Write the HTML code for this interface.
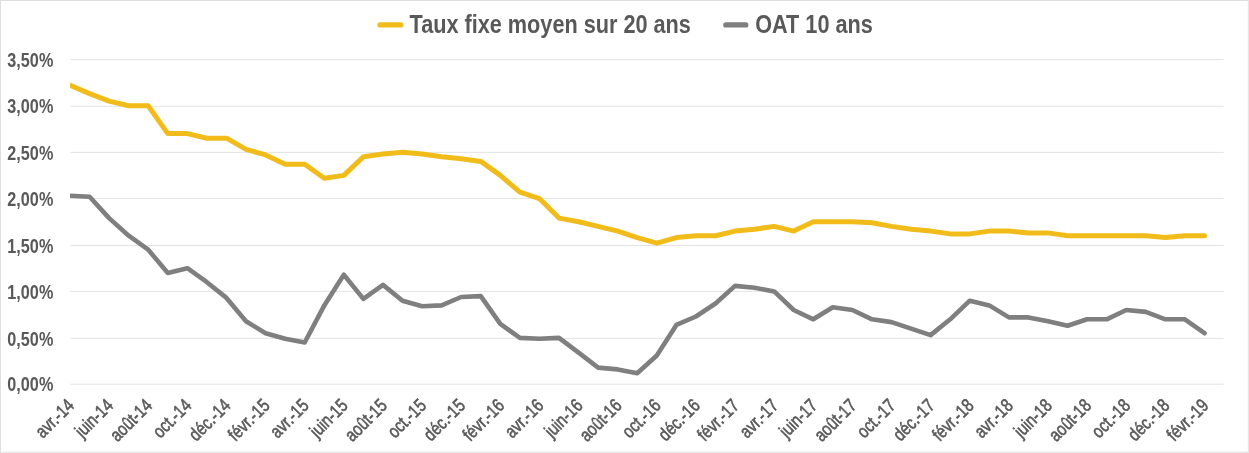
<!DOCTYPE html>
<html lang="fr">
<head>
<meta charset="utf-8">
<title>Taux fixe moyen sur 20 ans et OAT 10 ans</title>
<style>
html,body{margin:0;padding:0;background:#fff;}
body{width:1249px;height:453px;overflow:hidden;}
svg{display:block;}
text{font-family:"Liberation Sans",Arial,sans-serif;fill:#595959;}
.b{font-weight:bold;}
</style>
</head>
<body>
<svg width="1249" height="453" viewBox="0 0 1249 453">
<rect x="0" y="0" width="1249" height="453" fill="#ffffff"/>
<g fill="#dedede"><rect x="0" y="0" width="1249" height="1"/><rect x="0" y="0" width="1" height="453"/><rect x="1247.8" y="0" width="1.2" height="453" fill="#e6e6e6"/><rect x="0" y="451.6" width="1249" height="1.4" fill="#e6e6e6"/></g>

<g stroke="#e3e3e3" stroke-width="1" fill="none">
<line x1="70.5" y1="384.2" x2="1223.6" y2="384.2"/>
<line x1="70.5" y1="338.4" x2="1223.6" y2="338.4"/>
<line x1="70.5" y1="291.4" x2="1223.6" y2="291.4"/>
<line x1="70.5" y1="245.5" x2="1223.6" y2="245.5"/>
<line x1="70.5" y1="198.4" x2="1223.6" y2="198.4"/>
<line x1="70.5" y1="152.4" x2="1223.6" y2="152.4"/>
<line x1="70.5" y1="106.3" x2="1223.6" y2="106.3"/>
<line x1="70.5" y1="59.6" x2="1223.6" y2="59.6"/>
</g>
<g class="b" font-size="19.3" text-anchor="end">
<text transform="translate(53.3,391.3) scale(0.84,1)">0,00%</text>
<text transform="translate(53.3,345.5) scale(0.84,1)">0,50%</text>
<text transform="translate(53.3,298.5) scale(0.84,1)">1,00%</text>
<text transform="translate(53.3,252.6) scale(0.84,1)">1,50%</text>
<text transform="translate(53.3,205.5) scale(0.84,1)">2,00%</text>
<text transform="translate(53.3,159.5) scale(0.84,1)">2,50%</text>
<text transform="translate(53.3,113.4) scale(0.84,1)">3,00%</text>
<text transform="translate(53.3,66.7) scale(0.84,1)">3,50%</text>
</g>
<g font-size="18.5" text-anchor="end" stroke="#595959" stroke-width="0.6">
<text transform="translate(75.2,406.6) rotate(-45) scale(0.81,1)">avr.-14</text>
<text transform="translate(114.3,406.6) rotate(-45) scale(0.81,1)">juin-14</text>
<text transform="translate(153.4,406.6) rotate(-45) scale(0.81,1)">août-14</text>
<text transform="translate(192.6,406.6) rotate(-45) scale(0.81,1)">oct.-14</text>
<text transform="translate(231.7,406.6) rotate(-45) scale(0.81,1)">déc.-14</text>
<text transform="translate(270.8,406.6) rotate(-45) scale(0.81,1)">févr.-15</text>
<text transform="translate(309.9,406.6) rotate(-45) scale(0.81,1)">avr.-15</text>
<text transform="translate(349.0,406.6) rotate(-45) scale(0.81,1)">juin-15</text>
<text transform="translate(388.2,406.6) rotate(-45) scale(0.81,1)">août-15</text>
<text transform="translate(427.3,406.6) rotate(-45) scale(0.81,1)">oct.-15</text>
<text transform="translate(466.4,406.6) rotate(-45) scale(0.81,1)">déc.-15</text>
<text transform="translate(505.5,406.6) rotate(-45) scale(0.81,1)">févr.-16</text>
<text transform="translate(544.6,406.6) rotate(-45) scale(0.81,1)">avr.-16</text>
<text transform="translate(583.8,406.6) rotate(-45) scale(0.81,1)">juin-16</text>
<text transform="translate(622.9,406.6) rotate(-45) scale(0.81,1)">août-16</text>
<text transform="translate(662.0,406.6) rotate(-45) scale(0.81,1)">oct.-16</text>
<text transform="translate(701.1,406.6) rotate(-45) scale(0.81,1)">déc.-16</text>
<text transform="translate(740.2,406.6) rotate(-45) scale(0.81,1)">févr.-17</text>
<text transform="translate(779.4,406.6) rotate(-45) scale(0.81,1)">avr.-17</text>
<text transform="translate(818.5,406.6) rotate(-45) scale(0.81,1)">juin-17</text>
<text transform="translate(857.6,406.6) rotate(-45) scale(0.81,1)">août-17</text>
<text transform="translate(896.7,406.6) rotate(-45) scale(0.81,1)">oct.-17</text>
<text transform="translate(935.8,406.6) rotate(-45) scale(0.81,1)">déc.-17</text>
<text transform="translate(975.0,406.6) rotate(-45) scale(0.81,1)">févr.-18</text>
<text transform="translate(1014.1,406.6) rotate(-45) scale(0.81,1)">avr.-18</text>
<text transform="translate(1053.2,406.6) rotate(-45) scale(0.81,1)">juin-18</text>
<text transform="translate(1092.3,406.6) rotate(-45) scale(0.81,1)">août-18</text>
<text transform="translate(1131.4,406.6) rotate(-45) scale(0.81,1)">oct.-18</text>
<text transform="translate(1170.6,406.6) rotate(-45) scale(0.81,1)">déc.-18</text>
<text transform="translate(1209.7,406.6) rotate(-45) scale(0.81,1)">févr.-19</text>
</g>
<clipPath id="plot"><rect x="70" y="40" width="1170" height="360"/></clipPath>
<g clip-path="url(#plot)" fill="none" stroke-width="4.6" stroke-linecap="round" stroke-linejoin="round">
<polyline stroke="#7f7f7f" points="70.0,195.8 89.6,196.7 109.1,218.1 128.7,235.7 148.2,249.7 167.8,272.9 187.4,268.2 206.9,282.2 226.5,297.9 246.0,321.2 265.6,333.2 285.2,338.8 304.7,342.5 324.3,305.4 343.8,274.7 363.4,298.9 383.0,284.9 402.5,300.7 422.1,306.3 441.6,305.4 461.2,297.0 480.8,296.1 500.3,323.9 519.9,337.9 539.4,338.8 559.0,337.9 578.6,352.7 598.1,367.6 617.7,369.4 637.2,373.2 656.8,355.5 676.4,324.9 695.9,316.5 715.5,303.5 735.0,285.9 754.6,287.7 774.2,291.4 793.7,310.0 813.3,319.3 832.8,307.2 852.4,310.0 872.0,319.3 891.5,322.1 911.1,328.6 930.6,335.1 950.2,319.3 969.8,300.7 989.3,305.4 1008.9,317.4 1028.4,317.4 1048.0,321.2 1067.6,325.8 1087.1,319.3 1106.7,319.3 1126.2,310.0 1145.8,311.9 1165.4,319.3 1184.9,319.3 1204.5,333.2"/>
<polyline stroke="#f1bc1a" stroke-width="5" points="70.0,85.3 89.6,93.6 109.1,101.1 128.7,105.7 148.2,105.7 167.8,133.6 187.4,133.6 206.9,138.2 226.5,138.2 246.0,149.4 265.6,154.9 285.2,164.2 304.7,164.2 324.3,178.2 343.8,175.4 363.4,156.8 383.0,154.0 402.5,152.2 422.1,154.0 441.6,156.8 461.2,158.7 480.8,161.4 500.3,175.4 519.9,192.1 539.4,198.6 559.0,218.1 578.6,221.8 598.1,226.4 617.7,231.1 637.2,237.6 656.8,243.2 676.4,237.6 695.9,235.7 715.5,235.7 735.0,231.1 754.6,229.2 774.2,226.4 793.7,231.1 813.3,221.8 832.8,221.8 852.4,221.8 872.0,222.7 891.5,226.4 911.1,229.2 930.6,231.1 950.2,233.9 969.8,233.9 989.3,231.1 1008.9,231.1 1028.4,232.9 1048.0,232.9 1067.6,235.7 1087.1,235.7 1106.7,235.7 1126.2,235.7 1145.8,235.7 1165.4,237.6 1184.9,235.7 1204.5,235.7"/>
</g>
<g stroke-width="5.2" stroke-linecap="round">
<line x1="380" y1="24.9" x2="400.8" y2="24.9" stroke="#f1bc1a"/>
<line x1="725.8" y1="24.9" x2="745.8" y2="24.9" stroke="#7f7f7f"/>
</g>
<g class="b" font-size="26">
<text transform="translate(409.5,33.1) scale(0.834,1)">Taux fixe moyen sur 20 ans</text>
<text transform="translate(755.2,33.1) scale(0.834,1)">OAT 10 ans</text>
</g>
</svg>
</body>
</html>
